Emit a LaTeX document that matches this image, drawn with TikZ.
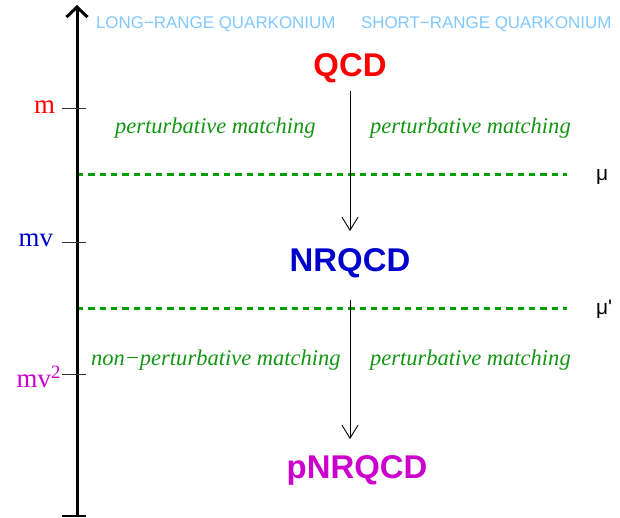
\documentclass[tikz,border=0pt]{standalone}
\usepackage{fontspec}
\setmainfont{Liberation Serif}
\setsansfont{Liberation Sans}
\usetikzlibrary{arrows.meta}
\definecolor{lblue}{RGB}{128,200,255}
\definecolor{qred}{RGB}{255,0,0}
\definecolor{qblue}{RGB}{0,0,204}
\definecolor{qmag}{RGB}{204,0,204}
\definecolor{dgreen}{RGB}{0,160,0}
\definecolor{tgreen}{RGB}{20,150,20}
\begin{document}
\begin{tikzpicture}[x=1bp,y=-1bp,
  txt/.style={inner sep=0pt, outer sep=0pt},
  theory/.style={txt, font=\sffamily\bfseries\fontsize{33}{33}\selectfont, anchor=base},
  rangelbl/.style={txt, font=\sffamily\fontsize{17}{17}\selectfont, text=lblue, anchor=base west},
  scalelbl/.style={txt, font=\fontsize{27}{27}\selectfont, anchor=base east},
  match/.style={txt, font=\itshape\fontsize{22.6}{22.6}\selectfont, text=tgreen, anchor=base west},
  mulabel/.style={txt, font=\sffamily\fontsize{21}{21}\selectfont, anchor=base west},
  axisline/.style={line width=3bp, -{Straight Barb[length=10bp,width=21bp]}},
  tickline/.style={line width=1bp, draw=black!80},
  cutline/.style={line width=3bp, draw=dgreen, dash pattern=on 6.3bp off 5bp},
  flow/.style={line width=0.9bp, -{Straight Barb[length=13bp,width=16bp]}}]
\useasboundingbox (0,0) rectangle (620,518);

% header labels
\node[rangelbl] (lr) at (96,29) {LONG−RANGE QUARKONIUM};
\node[rangelbl] (sr) at (361,29) {SHORT−RANGE QUARKONIUM};

% theories
\node[theory,text=qred] (qcd) at (350,77) {QCD};
\node[theory,text=qblue] (nrqcd) at (350,271) {NRQCD};
\node[theory,text=qmag] (pnrqcd) at (357,478) {pNRQCD};

% scale labels
\node[scalelbl,text=qred] (m) at (55,114) {m};
\node[scalelbl,text=qblue] (mv) at (53,247) {mv};
\node[scalelbl,text=qmag] (mv2) at (61,387) {mv\textsuperscript{2}};

% matching labels
\node[match] (pm1) at (115,134) {perturbative matching};
\node[match] (pm2) at (370,134) {perturbative matching};
\node[match] (npm) at (91,365) {non−perturbative matching};
\node[match] (pm3) at (370,365) {perturbative matching};

% mu labels
\node[mulabel] (mu) at (596,181) {μ};
\node[mulabel] (mup) at (596,314) {μ\textquotesingle};

% coordinates
\coordinate (axb) at (77,516);
\coordinate (axt) at (77,5);
\coordinate (tm) at (77,109);
\coordinate (tmv) at (77,242);
\coordinate (tmv2) at (77,374);
\coordinate (c1a) at (77,175);
\coordinate (c1b) at (567,175);
\coordinate (c2a) at (77,308);
\coordinate (c2b) at (567,308);

% cut-off lines
\draw[cutline] (c1a) -- (c1b);
\draw[cutline] (c2a) -- (c2b);

% axis
\draw[axisline] (axb) -- (axt);
\draw[line width=2bp] ([xshift=-15bp]axb) -- ([xshift=9bp]axb);
\draw[tickline] ([xshift=-15bp]tm) -- ([xshift=9bp]tm);
\draw[tickline] ([xshift=-15bp]tmv) -- ([xshift=9bp]tmv);
\draw[tickline] ([xshift=-15bp]tmv2) -- ([xshift=9bp]tmv2);

% flows
\draw[flow, shorten <=8bp, shorten >=17bp] (qcd.south) -- (qcd.south |- nrqcd.north);
\draw[flow, shorten <=23bp, shorten >=16bp] (nrqcd.south) -- (nrqcd.south |- pnrqcd.north);
\end{tikzpicture}
\end{document}
